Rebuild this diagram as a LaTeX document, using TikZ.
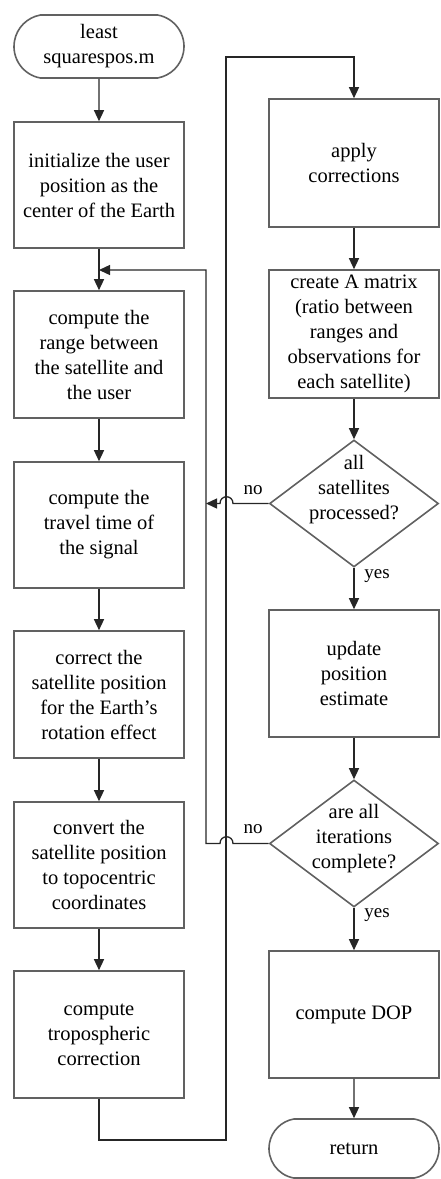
\documentclass[tikz,border=0pt]{standalone}
\usepackage{fontspec}
\setmainfont{Liberation Serif}
\usetikzlibrary{arrows.meta,shapes.geometric,shapes.misc}
\begin{document}
\begin{tikzpicture}[x=1pt,y=-1pt,
  every node/.style={font=\fontsize{20.5}{25}\selectfont},
  box/.style={draw=black!62, line width=1.6pt, minimum width=170pt, inner sep=0pt, align=center},
  term/.style={box, rounded rectangle, rounded rectangle arc length=160},
  decision/.style={draw=black!62, line width=1.6pt, diamond, minimum width=169pt, minimum height=127pt, inner sep=0pt},
  dtext/.style={align=center, inner sep=0pt},
  flow/.style={draw=black!85, line width=1.3pt},
  arr/.style={flow, -{Triangle[length=11pt,width=10pt]}},
  lbl/.style={font=\fontsize{19}{22}\selectfont, inner sep=0pt}]
\useasboundingbox (0,0) rectangle (441,1179);

% left column
\node[term, minimum height=63pt] (start) at (99,46.5) {least\\squarespos.m};
\node[box, minimum height=126pt] (b1) at (99,185) {initialize the user\\position as the\\center of the Earth};
\node[box, minimum height=127pt] (b2) at (99,354.5) {compute the\\range between\\the satellite and\\the user};
\node[box, minimum height=126pt] (b3) at (99,525) {compute the\\travel time of\\the signal};
\node[box, minimum height=127pt] (b4) at (99,694.5) {correct the\\satellite position\\for the Earth's\\rotation effect};
\node[box, minimum height=126pt] (b5) at (99,865) {convert the\\satellite position\\to topocentric\\coordinates};
\node[box, minimum height=127pt] (b6) at (99,1034.5) {compute\\tropospheric\\correction};

% right column
\node[box, minimum height=128pt] (r1) at (354,163) {apply\\corrections};
\node[box, minimum height=128pt] (r2) at (354,334) {create A matrix\\(ratio between\\ranges and\\observations for\\each satellite)};
\node[decision] (d1) at (354,503.5) {};
\node[dtext] (d1t) at (354,490) {all\\satellites\\processed?};
\node[box, minimum height=127pt] (r3) at (354,673.5) {update\\position\\estimate};
\node[decision] (d2) at (354,843.5) {};
\node[dtext] (d2t) at (354,839) {are all\\iterations\\complete?};
\node[box, minimum height=127pt] (r4) at (354,1014.5) {compute DOP};
\node[term, minimum height=59pt] (ret) at (354,1148.5) {return};

% branch labels
\node[lbl] (no1) at (253,490) {no};
\node[lbl] (no2) at (253,829) {no};
\node[lbl] (yes1) at (377,576) {yes};
\node[lbl] (yes2) at (377,915) {yes};

% routing points
\coordinate (c1) at (99,1140);
\coordinate (c2) at (226,1140);
\coordinate (c3) at (226,57);
\coordinate (c4) at (354,57);
\coordinate (j) at (99,270);
\coordinate (loopt) at (206,270);
\coordinate (loopb) at (206,843.5);
\coordinate (m1) at (206,503.5);
\coordinate (h1a) at (233,503.5);
\coordinate (h1b) at (220,503.5);
\coordinate (h2a) at (233,843.5);
\coordinate (h2b) at (220,843.5);

% main flow
\draw[arr] (start) -- (b1);
\draw[arr] (b1) -- (b2);
\draw[arr] (b2) -- (b3);
\draw[arr] (b3) -- (b4);
\draw[arr] (b4) -- (b5);
\draw[arr] (b5) -- (b6);
\draw[arr] (b6.south) -- (c1) -- (c2) -- (c3) -- (c4) -- (r1.north);
\draw[arr] (r1) -- (r2);
\draw[arr] (r2) -- (d1);
\draw[arr] (d1) -- (r3);
\draw[arr] (r3) -- (d2);
\draw[arr] (d2) -- (r4);
\draw[arr] (r4) -- (ret);

% loops back, hopping over the long return line
\draw[arr] (d1.west) -- (h1a) .. controls +(0,-9) and +(0,-9) .. (h1b) -- (m1);
\draw[arr] (d2.west) -- (h2a) .. controls +(0,-9) and +(0,-9) .. (h2b) -- (loopb) -- (loopt) -- (j);
\end{tikzpicture}
\end{document}
